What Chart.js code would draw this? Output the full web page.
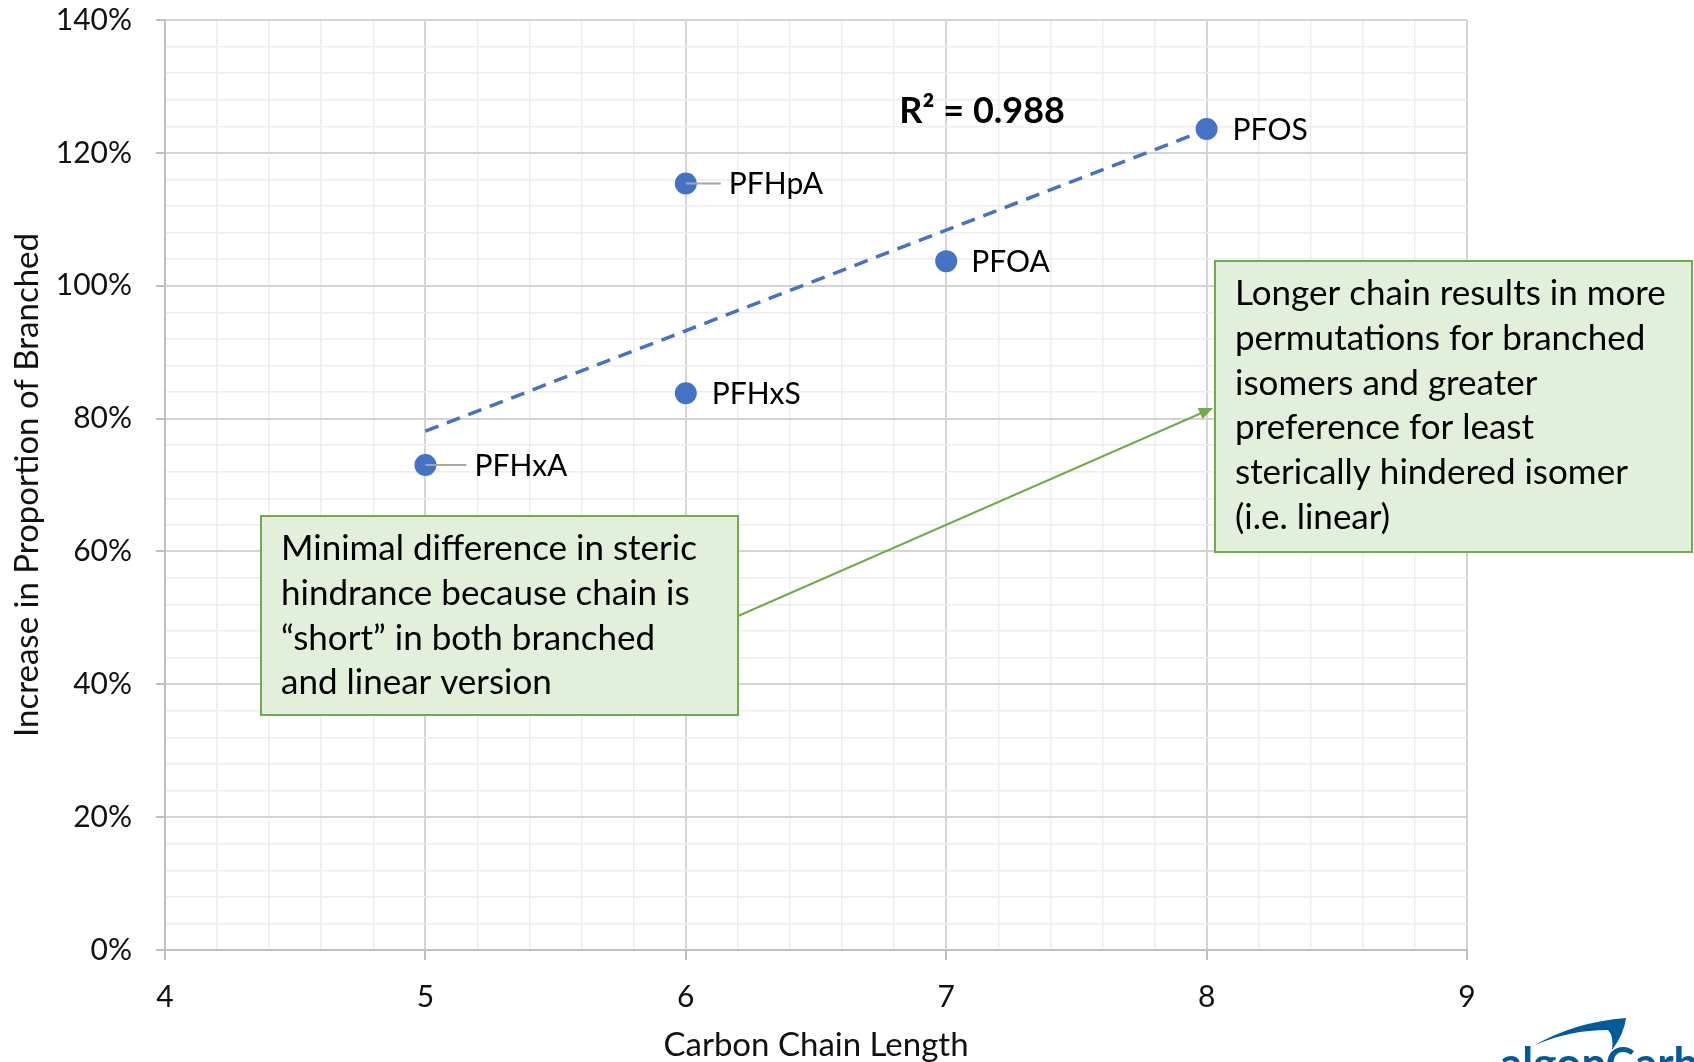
<!DOCTYPE html>
<html>
<head>
    <title>Branched proportion vs chain length</title>
    <script src="https://cdn.jsdelivr.net/npm/chart.js"></script>
    <style>
        body { margin: 0; background: #fff; }
        #wrap { width: 1694px; height: 1062px; position: relative; }
    </style>
</head>
<body>
    <div id="wrap"><canvas id="scatterChart"></canvas></div>

    <script>
        // values
        var compounds = ['PFHxA', 'PFHpA', 'PFHxS', 'PFOA', 'PFOS'];
        var chainLength = [5, 6, 6, 7, 8];
        var branchedIncrease = [73, 115.4, 83.8, 103.7, 123.6];
        var trendX = [5, 8];
        var trendY = [78.1, 123.5];
        var xTicks = [4, 5, 6, 7, 8, 9];
        var yTicks = [0, 20, 40, 60, 80, 100, 120, 140];
        var rSquared = 'R\u00B2 = 0.988';

        var leftNote = ['Minimal difference in steric', 'hindrance because chain is',
            '\u201Cshort\u201D in both branched', 'and linear version'];
        var rightNote = ['Longer chain results in more', 'permutations for branched',
            'isomers and greater', 'preference for least',
            'sterically hindered isomer', '(i.e. linear)'];

        var FONT = 'Lato';
        var BLUE = '#4472C4';

        function isMajorX(v) { return xTicks.some(function(t) { return Math.abs(t - v) < 1e-6; }); }
        function isMajorY(v) { return yTicks.some(function(t) { return Math.abs(t - v) < 1e-6; }); }

        var points = [];
        for (var i = 0; i < compounds.length; i++) {
            points.push({x: chainLength[i], y: branchedIncrease[i]});
        }
        var trend = [];
        for (var j = 0; j < trendX.length; j++) {
            trend.push({x: trendX[j], y: trendY[j]});
        }

        // label offsets (px) and which labels get a leader line
        var labelDx = [49, 43, 26, 25, 26];
        var leader = [true, true, false, false, false];

        function drawNote(ctx, x, y, w, h, lines, lineGap) {
            ctx.save();
            ctx.fillStyle = '#E2EFDA';
            ctx.strokeStyle = '#70AD47';
            ctx.lineWidth = 2;
            ctx.fillRect(x, y, w, h);
            ctx.strokeRect(x, y, w, h);
            ctx.fillStyle = '#000';
            ctx.font = '35px ' + FONT;
            ctx.textBaseline = 'middle';
            ctx.textAlign = 'left';
            for (var k = 0; k < lines.length; k++) {
                ctx.fillText(lines[k], x + 20, y + 33 + k * lineGap);
            }
            ctx.restore();
        }

        var overlay = {
            id: 'overlay',
            afterDatasetsDraw: function(chart) {
                var ctx = chart.ctx;
                var xs = chart.scales.x, ys = chart.scales.y;
                ctx.save();
                // data labels
                ctx.font = '30px ' + FONT;
                ctx.textBaseline = 'middle';
                ctx.textAlign = 'left';
                for (var i = 0; i < compounds.length; i++) {
                    var px = xs.getPixelForValue(chainLength[i]);
                    var py = ys.getPixelForValue(branchedIncrease[i]);
                    if (leader[i]) {
                        ctx.strokeStyle = '#A6A6A6';
                        ctx.lineWidth = 2;
                        ctx.beginPath();
                        ctx.moveTo(px, py);
                        ctx.lineTo(px + labelDx[i] - 8, py);
                        ctx.stroke();
                    }
                    ctx.fillStyle = '#000';
                    ctx.fillText(compounds[i], px + labelDx[i], py + 1);
                }
                // R squared
                ctx.font = 'bold 36px ' + FONT;
                ctx.fillStyle = '#000';
                ctx.fillText(rSquared, xs.getPixelForValue(6.82), ys.getPixelForValue(126.3));
                ctx.restore();
            },
            afterDraw: function(chart) {
                var ctx = chart.ctx;
                // arrow
                ctx.save();
                var x1 = 738, y1 = 616, x2 = 1213, y2 = 408;
                var ang = Math.atan2(y2 - y1, x2 - x1);
                ctx.strokeStyle = '#70AD47';
                ctx.fillStyle = '#70AD47';
                ctx.lineWidth = 2;
                ctx.beginPath();
                ctx.moveTo(x1, y1);
                ctx.lineTo(x2 - 10 * Math.cos(ang), y2 - 10 * Math.sin(ang));
                ctx.stroke();
                ctx.beginPath();
                ctx.moveTo(x2, y2);
                ctx.lineTo(x2 - 14 * Math.cos(ang) + 6 * Math.sin(ang), y2 - 14 * Math.sin(ang) - 6 * Math.cos(ang));
                ctx.lineTo(x2 - 14 * Math.cos(ang) - 6 * Math.sin(ang), y2 - 14 * Math.sin(ang) + 6 * Math.cos(ang));
                ctx.closePath();
                ctx.fill();
                ctx.restore();

                drawNote(ctx, 261, 516, 477, 199, leftNote, 44.7);
                drawNote(ctx, 1215, 261, 477, 291, rightNote, 44.7);

                // cropped logo in the corner
                ctx.save();
                ctx.fillStyle = '#005A9C';
                ctx.beginPath();
                ctx.moveTo(1535, 1045);
                ctx.quadraticCurveTo(1575, 1022, 1626, 1018);
                ctx.quadraticCurveTo(1624, 1034, 1612, 1050);
                ctx.quadraticCurveTo(1614, 1036, 1608, 1030);
                ctx.quadraticCurveTo(1570, 1030, 1535, 1045);
                ctx.fill();
                ctx.font = 'bold 44px ' + FONT;
                ctx.textBaseline = 'alphabetic';
                ctx.textAlign = 'left';
                ctx.fillText('algonCarbon', 1500, 1079);
                ctx.restore();
            }
        };

        var ctx = document.getElementById('scatterChart').getContext('2d');
        var chart = new Chart(ctx, {
            type: 'scatter',
            data: {
                datasets: [{
                    label: 'Trend',
                    data: trend,
                    showLine: true,
                    borderColor: BLUE,
                    borderWidth: 3.5,
                    borderDash: [14, 9],
                    pointRadius: 0,
                    fill: false,
                    order: 2
                }, {
                    label: 'Compounds',
                    data: points,
                    pointRadius: 11,
                    pointBackgroundColor: BLUE,
                    pointBorderWidth: 0,
                    order: 1
                }]
            },
            options: {
                responsive: true,
                maintainAspectRatio: false,
                animation: false,
                layout: { padding: { top: 20, right: 227, bottom: 0, left: 0 } },
                plugins: { legend: { display: false }, tooltip: { enabled: false } },
                scales: {
                    x: {
                        type: 'linear',
                        min: 4,
                        max: 9,
                        afterFit: function(scale) {
                            scale.height = 112;
                            scale.paddingLeft = 0;
                            scale.paddingRight = 0;
                        },
                        ticks: {
                            stepSize: 0.2,
                            autoSkip: false,
                            maxRotation: 0,
                            padding: 19,
                            color: '#111',
                            font: { family: FONT, size: 30 },
                            callback: function(v) { return isMajorX(v) ? String(Math.round(v)) : ''; }
                        },
                        grid: {
                            color: function(c) { return isMajorX(c.tick.value) ? '#D4D4D4' : '#EDEDED'; },
                            lineWidth: function(c) { return isMajorX(c.tick.value) ? 2 : 1.5; },
                            tickColor: function(c) { return isMajorX(c.tick.value) ? '#BFBFBF' : 'rgba(0,0,0,0)'; },
                            tickLength: 10
                        },
                        border: { color: '#BFBFBF', width: 2 },
                        title: {
                            display: true,
                            text: 'Carbon Chain Length',
                            color: '#111',
                            font: { family: FONT, size: 33 },
                            padding: { top: 0, bottom: -3 }
                        }
                    },
                    y: {
                        type: 'linear',
                        min: 0,
                        max: 140,
                        afterFit: function(scale) {
                            scale.width = 165;
                            scale.paddingTop = 0;
                            scale.paddingBottom = 0;
                        },
                        ticks: {
                            stepSize: 4,
                            autoSkip: false,
                            padding: 24,
                            color: '#111',
                            font: { family: FONT, size: 30 },
                            callback: function(v) { return isMajorY(v) ? v + '%' : ''; }
                        },
                        grid: {
                            color: function(c) { return isMajorY(c.tick.value) ? '#D4D4D4' : '#EDEDED'; },
                            lineWidth: function(c) { return isMajorY(c.tick.value) ? 2 : 1.5; },
                            tickColor: function(c) { return isMajorY(c.tick.value) ? '#BFBFBF' : 'rgba(0,0,0,0)'; },
                            tickLength: 9
                        },
                        border: { color: '#BFBFBF', width: 2 },
                        title: {
                            display: true,
                            text: 'Increase in Proportion of Branched',
                            color: '#111',
                            font: { family: FONT, size: 33 },
                            padding: { top: 8, bottom: 0 }
                        }
                    }
                }
            },
            plugins: [overlay]
        });
    </script>
</body>
</html>
